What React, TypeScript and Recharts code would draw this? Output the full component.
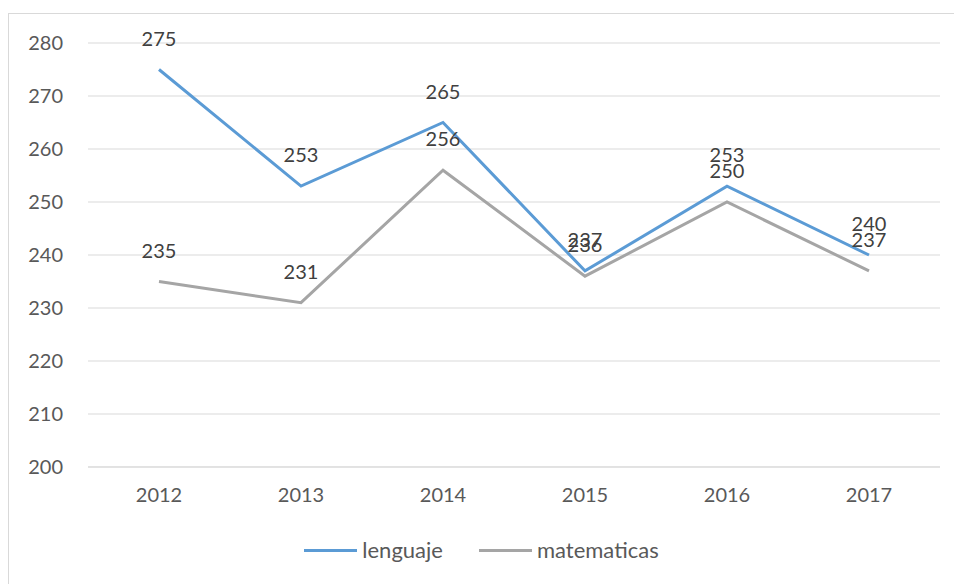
import React from "react";
import { LineChart, Line, XAxis, YAxis, CartesianGrid, Legend, LabelList } from "recharts";

const years = ["2012", "2013", "2014", "2015", "2016", "2017"];
const lenguaje = [275, 253, 265, 237, 253, 240];
const matematicas = [235, 231, 256, 236, 250, 237];
const yTicks = [200, 210, 220, 230, 240, 250, 260, 270, 280];

const BLUE = "#5B9BD5";
const GRAY = "#A5A5A5";
const FONT = "Lato, 'Open Sans', sans-serif";

const data = years.map((y, i) => ({ year: y, lenguaje: lenguaje[i], matematicas: matematicas[i] }));

const legendItems = [
  { name: "lenguaje", color: BLUE },
  { name: "matematicas", color: GRAY },
];

const LegendContent = () => (
  <div style={{ display: "flex", justifyContent: "center", alignItems: "center", fontFamily: FONT, fontSize: 22, color: "#595959" }}>
    {legendItems.map((it, i) => (
      <div key={it.name} style={{ display: "flex", alignItems: "center", marginLeft: i === 0 ? 0 : 36 }}>
        <div style={{ width: 53, height: 3, background: it.color, marginRight: 5 }} />
        <span style={{ lineHeight: "26px" }}>{it.name}</span>
      </div>
    ))}
  </div>
);

export default function App() {
  return (
    <div
      style={{
        position: "absolute",
        left: 8,
        top: 13,
        width: 946,
        height: 571,
        borderTop: "1px solid #d9d9d9",
        borderLeft: "1px solid #d9d9d9",
        boxSizing: "border-box",
        background: "#fff",
      }}
    >
      <LineChart
        width={945}
        height={570}
        data={data}
        margin={{ top: 29, right: 14, left: 0, bottom: 87 }}
        style={{ fontFamily: FONT }}
      >
        <CartesianGrid vertical={false} stroke="#d9d9d9" strokeWidth={1} />
        <XAxis
          dataKey="year"
          height={30}
          padding={{ left: 71, right: 71 }}
          tickLine={false}
          axisLine={{ stroke: "#d9d9d9" }}
          tick={{ fill: "#595959", fontSize: 20, fontFamily: FONT }}
          tickMargin={15}
        />
        <YAxis
          width={79}
          domain={[200, 280]}
          ticks={yTicks}
          tickLine={false}
          axisLine={false}
          tick={{ fill: "#595959", fontSize: 20, fontFamily: FONT }}
          tickMargin={19}
        />
        <Legend
          layout="horizontal"
          verticalAlign="middle"
          align="center"
          wrapperStyle={{ top: 523, left: 0, width: 945 }}
          content={<LegendContent />}
        />
        <Line
          type="linear"
          dataKey="lenguaje"
          stroke={BLUE}
          strokeWidth={3}
          dot={false}
          isAnimationActive={false}
        >
          <LabelList dataKey="lenguaje" position="top" offset={24} fill="#404040" fontSize={20} fontFamily={FONT} />
        </Line>
        <Line
          type="linear"
          dataKey="matematicas"
          stroke={GRAY}
          strokeWidth={3}
          dot={false}
          isAnimationActive={false}
        >
          <LabelList dataKey="matematicas" position="top" offset={24} fill="#404040" fontSize={20} fontFamily={FONT} />
        </Line>
      </LineChart>
    </div>
  );
}
